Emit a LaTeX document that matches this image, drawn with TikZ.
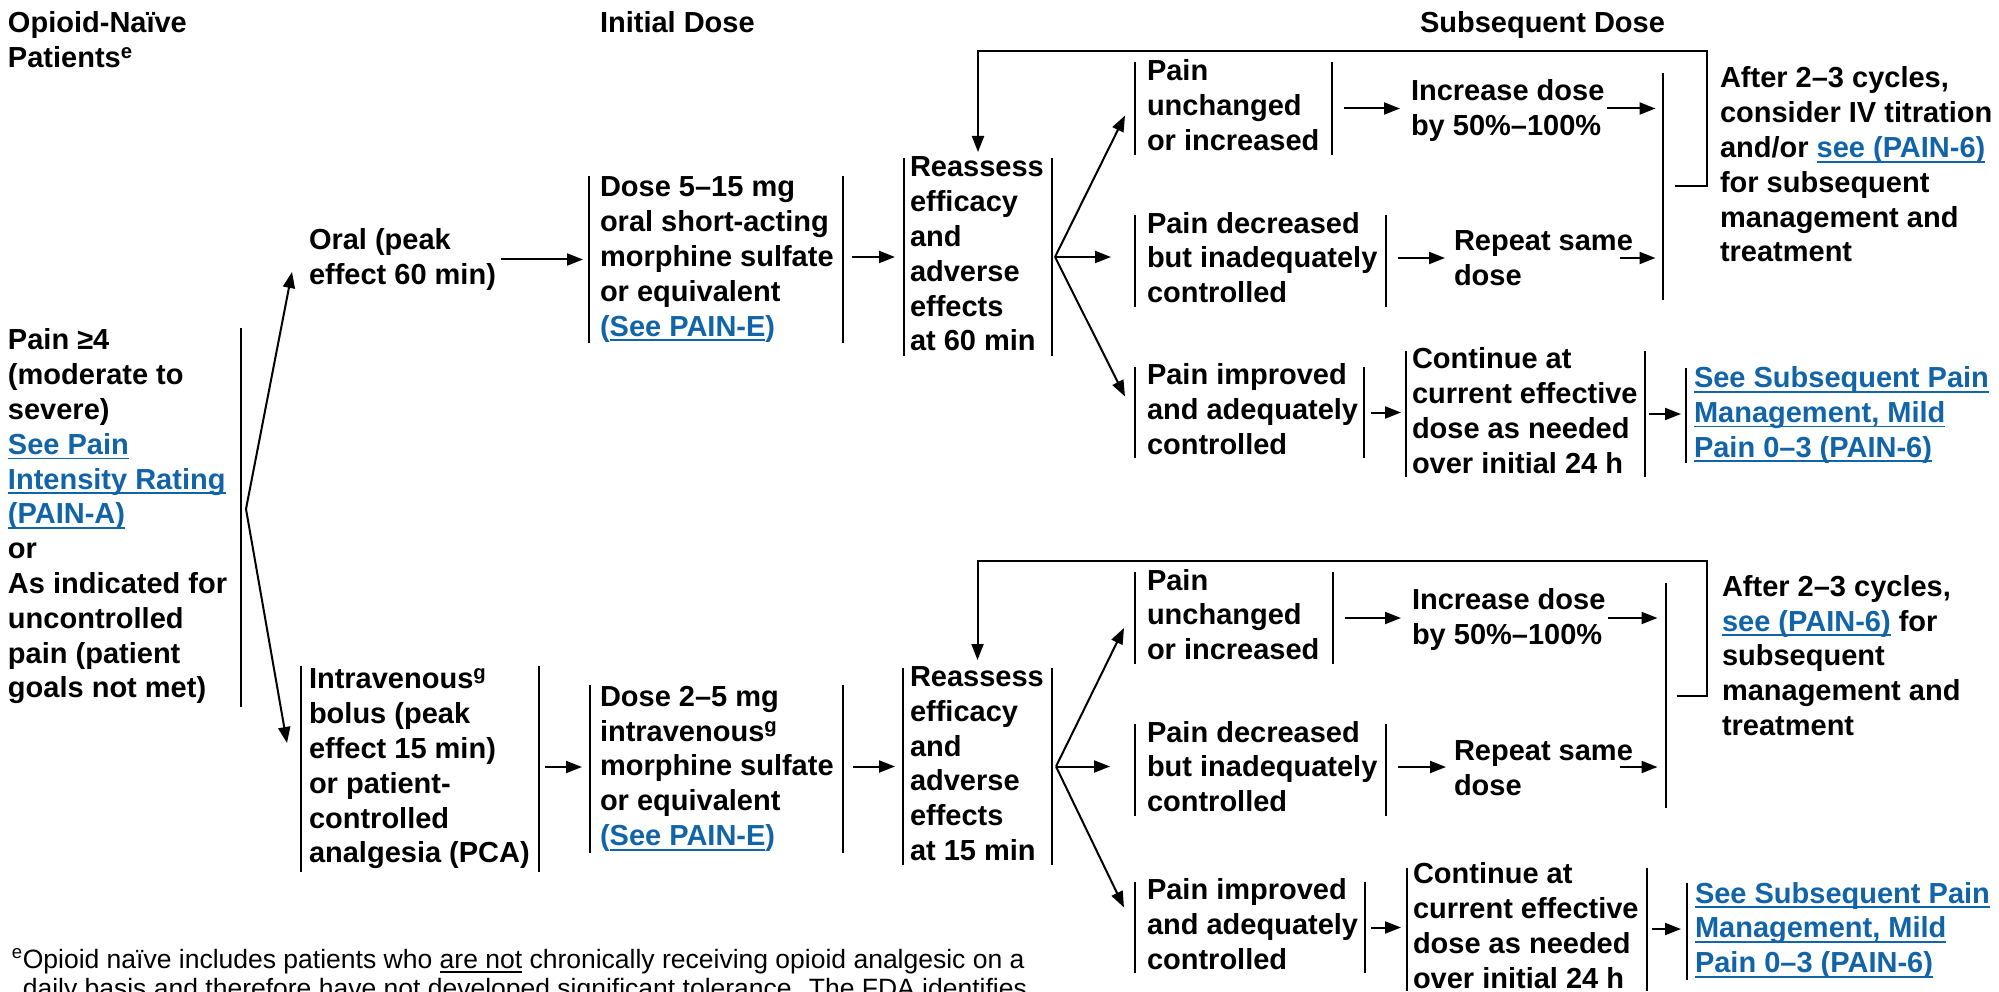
\documentclass[tikz,border=0pt]{standalone}
\usepackage{fontspec}
\setmainfont{Liberation Sans}
\usetikzlibrary{arrows.meta,calc}
\definecolor{lnk}{RGB}{18,100,168}
\newsavebox\ulbox
\newcommand\uln[1]{\sbox\ulbox{#1}\rlap{\rule[-5pt]{\wd\ulbox}{1.8pt}}\usebox\ulbox}
\newcommand\mainf{\fontsize{29pt}{34.8pt}\selectfont\bfseries}
\newcommand\footf{\fontsize{26.5pt}{29pt}\selectfont}
\newcommand\rows[1]{\begin{tabular}{@{}l@{}}#1\end{tabular}}
\newcommand\rowst[1]{\begin{tabular}[t]{@{}l@{}}#1\end{tabular}}
\newcommand\brows[2]{\makebox[#1pt][l]{\rows{#2}}}
\newcommand\lnkt[1]{{\color{lnk}\uln{#1}}}
\begin{document}
\begin{tikzpicture}[x=1pt,y=-1pt,
  every node/.style={inner sep=0pt, outer sep=0pt, anchor=west, font=\mainf},
  ln/.style={line width=2pt},
  arr/.style={ln, -{Triangle[length=16pt,width=12pt]}},
  lb/.style={append after command={([yshift=#1/2]\tikzlastnode.west) edge[ln] ([yshift=-#1/2]\tikzlastnode.west)}},
  rb/.style={append after command={([yshift=#1/2]\tikzlastnode.east) edge[ln] ([yshift=-#1/2]\tikzlastnode.east)}},
  lrb/.style={lb=#1, rb=#1}]
\useasboundingbox (0,0) rectangle (1999,992);
\clip (0,0) rectangle (1999,992);

% headers
\node (h1) at (8,43) {\rows{Opioid-Naïve\\Patients\textsuperscript{e}}};
\node (h2) at (600,26) {\rows{Initial Dose}};
\node (h3) at (1420,26) {\rows{Subsequent Dose}};

% left column
\node[rb=379] (pain) at (8,517) {\brows{233}{Pain ≥4\\(moderate to\\severe)\\\lnkt{See Pain}\\\lnkt{Intensity Rating}\\\lnkt{(PAIN-A)}\\or\\As indicated for\\uncontrolled\\pain (patient\\goals not met)}};

% oral branch
\node (oral) at (309,260) {\rows{Oral (peak\\effect 60 min)}};
\node[inner xsep=11pt, lrb=167] (d1) at (589,259.5) {\brows{232}{Dose 5–15 mg\\oral short-acting\\morphine sulfate\\or equivalent\\{\color{lnk}(\uln{See PAIN-E})}}};
\node[inner xsep=6pt, lrb=198] (reA) at (904,257) {\brows{136}{Reassess\\efficacy\\and\\adverse\\effects\\at 60 min}};
\node[inner xsep=12pt, lrb=93] (pu1) at (1135,108.5) {\brows{173}{Pain\\unchanged\\or increased}};
\node[inner xsep=12pt, lrb=92] (pd1) at (1135,261) {\brows{227}{Pain decreased\\but inadequately\\controlled}};
\node[inner xsep=12pt, lrb=91] (pi1) at (1135,412.5) {\brows{205}{Pain improved\\and adequately\\controlled}};
\node (inc1) at (1411,111) {\rows{Increase dose\\by 50\%–100\%}};
\node (rep1) at (1454,261) {\rows{Repeat same\\dose}};
\node[lb=227] (m1) at (1663,186.5) {};
\node (aft1) at (1720,168) {\rows{After 2–3 cycles,\\consider IV titration\\and/or \lnkt{see (PAIN-6)}\\for subsequent\\management and\\treatment}};
\node[inner xsep=6pt, lrb=126] (cont1) at (1406,414) {\brows{227}{Continue at\\current effective\\dose as needed\\over initial 24 h}};
\node[inner xsep=8pt, lb=95] (see1) at (1686,415.5) {\brows{300}{\lnkt{See Subsequent Pain}\\\lnkt{Management, Mild}\\\lnkt{Pain 0–3 (PAIN-6)}}};

% intravenous branch
\node[inner xsep=8pt, lrb=206] (iv) at (301,769) {\brows{222}{Intravenous\textsuperscript{g}\\bolus (peak\\effect 15 min)\\or patient-\\controlled\\analgesia (PCA)}};
\node[inner xsep=10pt, lrb=168] (d2) at (590,769) {\brows{233}{Dose 2–5 mg\\intravenous\textsuperscript{g}\\morphine sulfate\\or equivalent\\{\color{lnk}(\uln{See PAIN-E})}}};
\node[inner xsep=7pt, lrb=197] (reB) at (903,766.5) {\brows{135}{Reassess\\efficacy\\and\\adverse\\effects\\at 15 min}};
\node[inner xsep=12pt, lrb=92] (pu2) at (1135,618) {\brows{174}{Pain\\unchanged\\or increased}};
\node[inner xsep=12pt, lrb=92] (pd2) at (1135,770) {\brows{227}{Pain decreased\\but inadequately\\controlled}};
\node[inner xsep=12pt, lrb=91] (pi2) at (1135,927.5) {\brows{206}{Pain improved\\and adequately\\controlled}};
\node (inc2) at (1412,620) {\rows{Increase dose\\by 50\%–100\%}};
\node (rep2) at (1454,771) {\rows{Repeat same\\dose}};
\node[lb=225] (m2) at (1666,695.5) {};
\node (aft2) at (1722,659) {\rows{After 2–3 cycles,\\\lnkt{see (PAIN-6)} for\\subsequent\\management and\\treatment}};
\node[inner xsep=6pt, lrb=123] (cont2) at (1407,929) {\brows{228}{Continue at\\current effective\\dose as needed\\over initial 24 h}};
\node[inner xsep=8pt, lb=97] (see2) at (1687,931) {\brows{300}{\lnkt{See Subsequent Pain}\\\lnkt{Management, Mild}\\\lnkt{Pain 0–3 (PAIN-6)}}};

% footnote
\node[anchor=base west, font=\footf] (foot) at (12,968) {\rowst{\textsuperscript{e}Opioid naïve includes patients who \uln{are not} chronically receiving opioid analgesic on a\\\hphantom{\textsuperscript{e}}daily basis and therefore have not developed significant tolerance. The FDA identifies}};

% coordinates
\coordinate (o0) at ($(pain.east)+(5,-8)$);
\coordinate (o1) at ($(reA.east)+(3,0)$);
\coordinate (o2) at ($(reB.east)+(4,0)$);
\coordinate (lt1) at (1707,51);
\coordinate (lt2) at (1707,561);

% left branching
\draw[arr] (o0) -- ($(oral.west)+(-17,12)$);
\draw[arr] (o0) -- ($(iv.west)+(-14,-26)$);

% oral row
\draw[arr] ($(d1.west -| oral.east)+(5,0)$) -- ($(d1.west)+(-6,0)$);
\draw[arr] ($(reA.west -| d1.east)+(9,0)$) -- ($(reA.west)+(-9,0)$);
\draw[arr] (m1.center) ++(11,0) -| (lt1) -| ($(reA.center)+(0,-105)$);
\draw[arr] (o1) -- ($(pu1.west)+(-10,7)$);
\draw[arr] (o1) -- ($(o1 -| pd1.west)+(-24,0)$);
\draw[arr] (o1) -- ($(pi1.west)+(-10,-16)$);
\draw[arr] ($(pu1.east)+(12,0)$) -- ($(pu1.east -| inc1.west)+(-11,0)$);
\draw[arr] ($(pu1.east -| inc1.east)+(3,0)$) -- ($(pu1.east -| m1.center)+(-8,0)$);
\draw[arr] ($(pd1.east)+(12,-3)$) -- ($(pd1.east -| rep1.west)+(-9,-3)$);
\draw[arr] ($(pd1.east -| m1.center)+(-44,-3)$) -- ($(pd1.east -| m1.center)+(-8,-3)$);
\draw[arr] ($(pi1.east)+(7,0)$) -- ($(pi1.east -| cont1.west)+(-5,0)$);
\draw[arr] ($(cont1.east)+(4,0)$) -- ($(cont1.east -| see1.west)+(-5,0)$);

% intravenous row
\draw[arr] ($(d2.west -| iv.east)+(6,-2)$) -- ($(d2.west)+(-8,-2)$);
\draw[arr] ($(reB.west -| d2.east)+(10,0)$) -- ($(reB.west)+(-8,0)$);
\draw[arr] (m2.center) ++(10,0) -| (lt2) -| ($(reB.center)+(0,-106.5)$);
\draw[arr] (o2) -- ($(pu2.west)+(-11,10)$);
\draw[arr] (o2) -- ($(o2 -| pd2.west)+(-25,0)$);
\draw[arr] (o2) -- ($(pi2.west)+(-11,-20)$);
\draw[arr] ($(pu2.east)+(12,0)$) -- ($(pu2.east -| inc2.west)+(-11,0)$);
\draw[arr] ($(pu2.east -| inc2.east)+(3,0)$) -- ($(pu2.east -| m2.center)+(-9,0)$);
\draw[arr] ($(pd2.east)+(12,-3)$) -- ($(pd2.east -| rep2.west)+(-8,-3)$);
\draw[arr] ($(pd2.east -| m2.center)+(-47,-3)$) -- ($(pd2.east -| m2.center)+(-9,-3)$);
\draw[arr] ($(pi2.east)+(6,0)$) -- ($(pi2.east -| cont2.west)+(-6,0)$);
\draw[arr] ($(cont2.east)+(5,0)$) -- ($(cont2.east -| see2.west)+(-6,0)$);
\end{tikzpicture}
\end{document}
